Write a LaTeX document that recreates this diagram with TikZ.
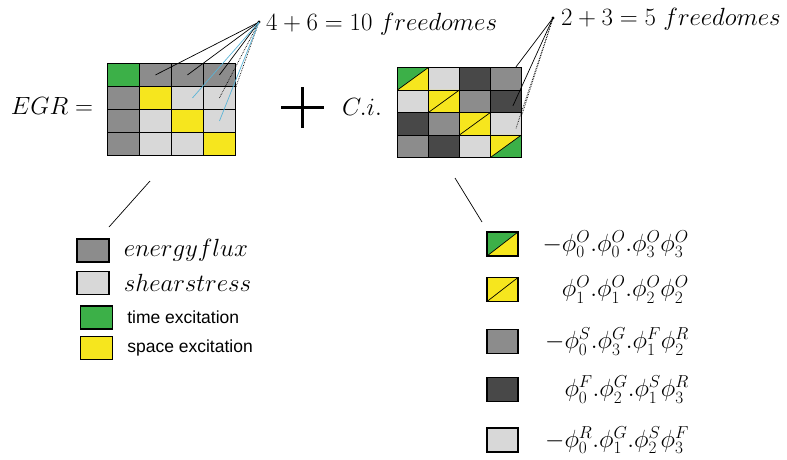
\documentclass[tikz,border=0pt]{standalone}
\usepackage{fontspec}
\newfontfamily\legendfont{Liberation Sans}
\usetikzlibrary{positioning}

\definecolor{fluxgray}{RGB}{140,140,140}
\definecolor{sheargray}{RGB}{216,216,216}
\definecolor{deepgray}{RGB}{72,72,72}
\definecolor{timegreen}{RGB}{60,176,72}
\definecolor{spaceyellow}{RGB}{246,230,30}
\definecolor{linkblue}{RGB}{90,180,215}

\tikzset{
  cell/.style={draw, line width=0.9pt, minimum width=32pt, minimum height=23pt, inner sep=0pt, anchor=north west},
  rcell/.style={cell, minimum width=31pt, minimum height=22.5pt},
  keybox/.style={draw, line width=1.2pt, minimum width=32pt, minimum height=23pt, inner sep=0pt},
  big/.style={font=\fontsize{24}{28}\selectfont, inner sep=1pt},
  sans/.style={font=\legendfont\fontsize{17.5}{21}\selectfont, inner sep=1pt},
  link/.style={line width=0.7pt},
  cflux/.style={fill=fluxgray},
  cshear/.style={fill=sheargray},
  cdeep/.style={fill=deepgray},
  ctime/.style={fill=timegreen},
  cspace/.style={fill=spaceyellow},
  halfcell/.style 2 args={fill=#2, path picture={
      \fill[#1] (path picture bounding box.north west) -- (path picture bounding box.north east)
        -- (path picture bounding box.south west) -- cycle;
      \draw[line width=0.7pt] (path picture bounding box.south west) -- (path picture bounding box.north east);}},
  ctsplit/.style={halfcell={timegreen}{spaceyellow}},
  cssplit/.style={halfcell={spaceyellow}{spaceyellow}},
  cstsplit/.style={halfcell={spaceyellow}{timegreen}},
}

\begin{document}
\begin{tikzpicture}[x=1pt,y=-1pt]
\useasboundingbox (0,0) rectangle (787,459);

% EGR grid
\node[big] (egr) at (52,106) {$EGR=$};
\foreach \s [count=\i from 0] in {ctime,cflux,cflux,cflux, cflux,cspace,cshear,cshear,
                                  cflux,cshear,cspace,cshear, cflux,cshear,cshear,cspace}{
  \pgfmathtruncatemacro\row{\i/4}
  \pgfmathtruncatemacro\col{mod(\i,4)}
  \node[cell,\s] (L-\row-\col) at (107+32*\col,63+23*\row) {};
}

% Plus
\draw[line width=3pt] (281,107) -- (324,107);
\draw[line width=3pt] (302,87) -- (302,128);

% C.i. grid
\node[big] (ci) at (362,107) {$C.i.$};
\foreach \s [count=\i from 0] in {ctsplit,cshear,cdeep,cflux, cshear,cssplit,cflux,cdeep,
                                  cdeep,cflux,cssplit,cshear, cflux,cdeep,cshear,cstsplit}{
  \pgfmathtruncatemacro\row{\i/4}
  \pgfmathtruncatemacro\col{mod(\i,4)}
  \node[rcell,\s] (R-\row-\col) at (397+31*\col,67+22.5*\row) {};
}

% Freedomes, left
\coordinate (apL) at (259,22);
\fill (apL) circle (1.6pt);
\node[big, anchor=base west] (fL) at (265,30) {$4+6=10\ freedomes$};
\draw[link] (apL) -- (L-0-1.center);
\draw[link] (apL) -- (L-0-2.center);
\draw[link] (apL) -- (L-0-3.center);
\draw[link, densely dotted] (apL) -- (L-0-3.south east);
\draw[link, densely dotted] (apL) -- (L-1-3.center);
\draw[link, linkblue] (apL) -- ([xshift=5pt]L-1-2.center);
\draw[link, linkblue] (apL) -- (L-2-3.center);

% Freedomes, right
\coordinate (apR) at (553,18);
\fill (apR) circle (1.6pt);
\node[big, anchor=base west] (fR) at (560,25) {$2+3=5\ freedomes$};
\draw[link] (apR) -- ([xshift=-6pt]R-0-3.north east);
\draw[link] (apR) -- ([shift={(-9pt,7pt)}]R-1-3.south east);
\draw[link, densely dotted] (apR) -- ([yshift=-2pt]R-1-3.south east);
\draw[link, densely dotted] (apR) -- ([shift={(-6pt,-5pt)}]R-2-3.east);

% Legend, left
\coordinate (lt) at (150,181);
\coordinate (lb) at (109,227);
\draw[link] (lt) -- (lb);
\node[keybox, cflux] (k1) at (93,250.5) {};
\node[keybox, cshear] (k2) at (93,283) {};
\node[keybox, ctime] (k3) at (96.5,317.5) {};
\node[keybox, cspace] (k4) at (96.5,348) {};
\node[big, right=13pt of k1] (t1) {$energyflux$};
\node[big, right=13pt of k2] (t2) {$shearstress$};
\node[sans, right=13pt of k3] (t3) {time excitation};
\node[sans, right=13pt of k4] (t4) {space excitation};

% Legend, right
\coordinate (rt) at (455,178);
\coordinate (rb) at (482,222);
\draw[link] (rt) -- (rb);
\coordinate (tx) at (690,0);
\node[keybox, minimum width=31pt, minimum height=24pt, ctsplit] (k5) at (502.5,244) {};
\node[keybox, minimum width=31pt, minimum height=24pt, cssplit] (k6) at (502.5,289.5) {};
\node[keybox, minimum width=31pt, minimum height=24pt, cflux] (k7) at (502.5,341.5) {};
\node[keybox, minimum width=31pt, minimum height=24pt, cdeep] (k8) at (502.5,389.5) {};
\node[keybox, minimum width=31pt, minimum height=24pt, cshear] (k9) at (502.5,440) {};
\node[big, anchor=east] (t5) at (k5 -| tx) {$-\phi_0^O.\phi_0^O.\phi_3^O\phi_3^O$};
\node[big, anchor=east] (t6) at (k6 -| tx) {$\phi_1^O.\phi_1^O.\phi_2^O\phi_2^O$};
\node[big, anchor=east] (t7) at (k7 -| tx) {$-\phi_0^S.\phi_3^G.\phi_1^F\phi_2^R$};
\node[big, anchor=east] (t8) at (k8 -| tx) {$\phi_0^F.\phi_2^G.\phi_1^S\phi_3^R$};
\node[big, anchor=east] (t9) at (k9 -| tx) {$-\phi_0^R.\phi_1^G.\phi_2^S\phi_3^F$};
\end{tikzpicture}
\end{document}
